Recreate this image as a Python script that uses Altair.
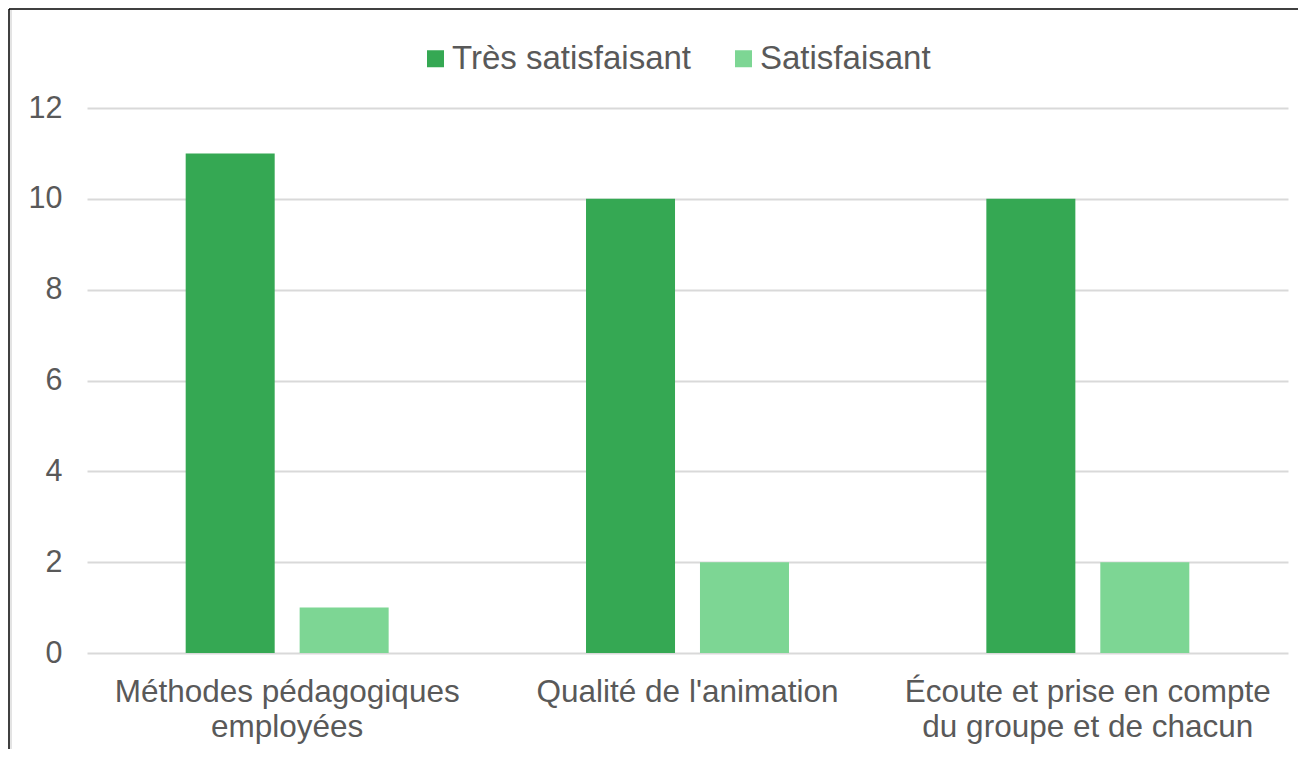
import altair as alt
import pandas as pd

categories = ["Méthodes pédagogiques\nemployées", "Qualité de l'animation", "Écoute et prise en compte\ndu groupe et de chacun"]
series = ["Très satisfaisant", "Satisfaisant"]
tres_satisfaisant = [11, 10, 10]
satisfaisant = [1, 2, 2]
colors = ["#35a853", "#7dd694"]
y_ticks = [0, 2, 4, 6, 8, 10, 12]

rows = []
for c, v in zip(categories, tres_satisfaisant):
    rows.append({"cat": c, "series": series[0], "value": v})
for c, v in zip(categories, satisfaisant):
    rows.append({"cat": c, "series": series[1], "value": v})
df = pd.DataFrame(rows)

FONT = "Liberation Sans"
TXT = "#595959"

bars = alt.Chart(df).mark_bar().encode(
    x=alt.X("cat:N", sort=categories,
            scale=alt.Scale(paddingInner=0.493, paddingOuter=0.2465),
            axis=alt.Axis(title=None, labelAngle=0, ticks=False, domain=False,
                          labelExpr="split(datum.value, '\\n')",
                          labelFontSize=31.5, labelColor=TXT, labelFont=FONT,
                          labelPadding=23, labelLineHeight=35, labelLimit=600)),
    xOffset=alt.XOffset("series:N", sort=series,
                        scale=alt.Scale(paddingInner=0.219, paddingOuter=0)),
    y=alt.Y("value:Q", scale=alt.Scale(domain=[0, 12]),
            axis=alt.Axis(title=None, values=y_ticks, domain=False, ticks=False,
                          labelFontSize=30.5, labelColor=TXT, labelFont=FONT,
                          labelPadding=25, gridColor="#d9d9d9", gridWidth=2)),
    color=alt.Color("series:N", sort=series,
                    scale=alt.Scale(domain=series, range=colors),
                    legend=alt.Legend(title=None, orient="none", legendX=332, legendY=-66,
                                      direction="horizontal", symbolType="square",
                                      symbolSize=289, symbolStrokeWidth=0,
                                      labelFontSize=33, labelFont=FONT, labelColor=TXT,
                                      labelOffset=0, columnPadding=35, padding=0,
                                      labelLimit=600)),
)

frame = alt.Chart(pd.DataFrame({"a": [0]}))
left_line = frame.mark_rule(color="black", strokeWidth=1.5).encode(
    x=alt.value(-78), y=alt.value(-99), y2=alt.value(651))
left_gray = frame.mark_rule(color="#c8c8c8", strokeWidth=1).encode(
    x=alt.value(-76), y=alt.value(-98), y2=alt.value(651))
top_line = frame.mark_rule(color="black", strokeWidth=1.5).encode(
    x=alt.value(-78), x2=alt.value(1217), y=alt.value(-99))

chart = alt.layer(bars, left_line, left_gray, top_line).properties(
    width=1201, height=545,
    padding={"left": 79, "top": 100, "right": 10, "bottom": 96},
    autosize="none",
).configure_view(strokeWidth=0)

chart.save("out.html", embed_options={"renderer": "svg", "actions": False})
